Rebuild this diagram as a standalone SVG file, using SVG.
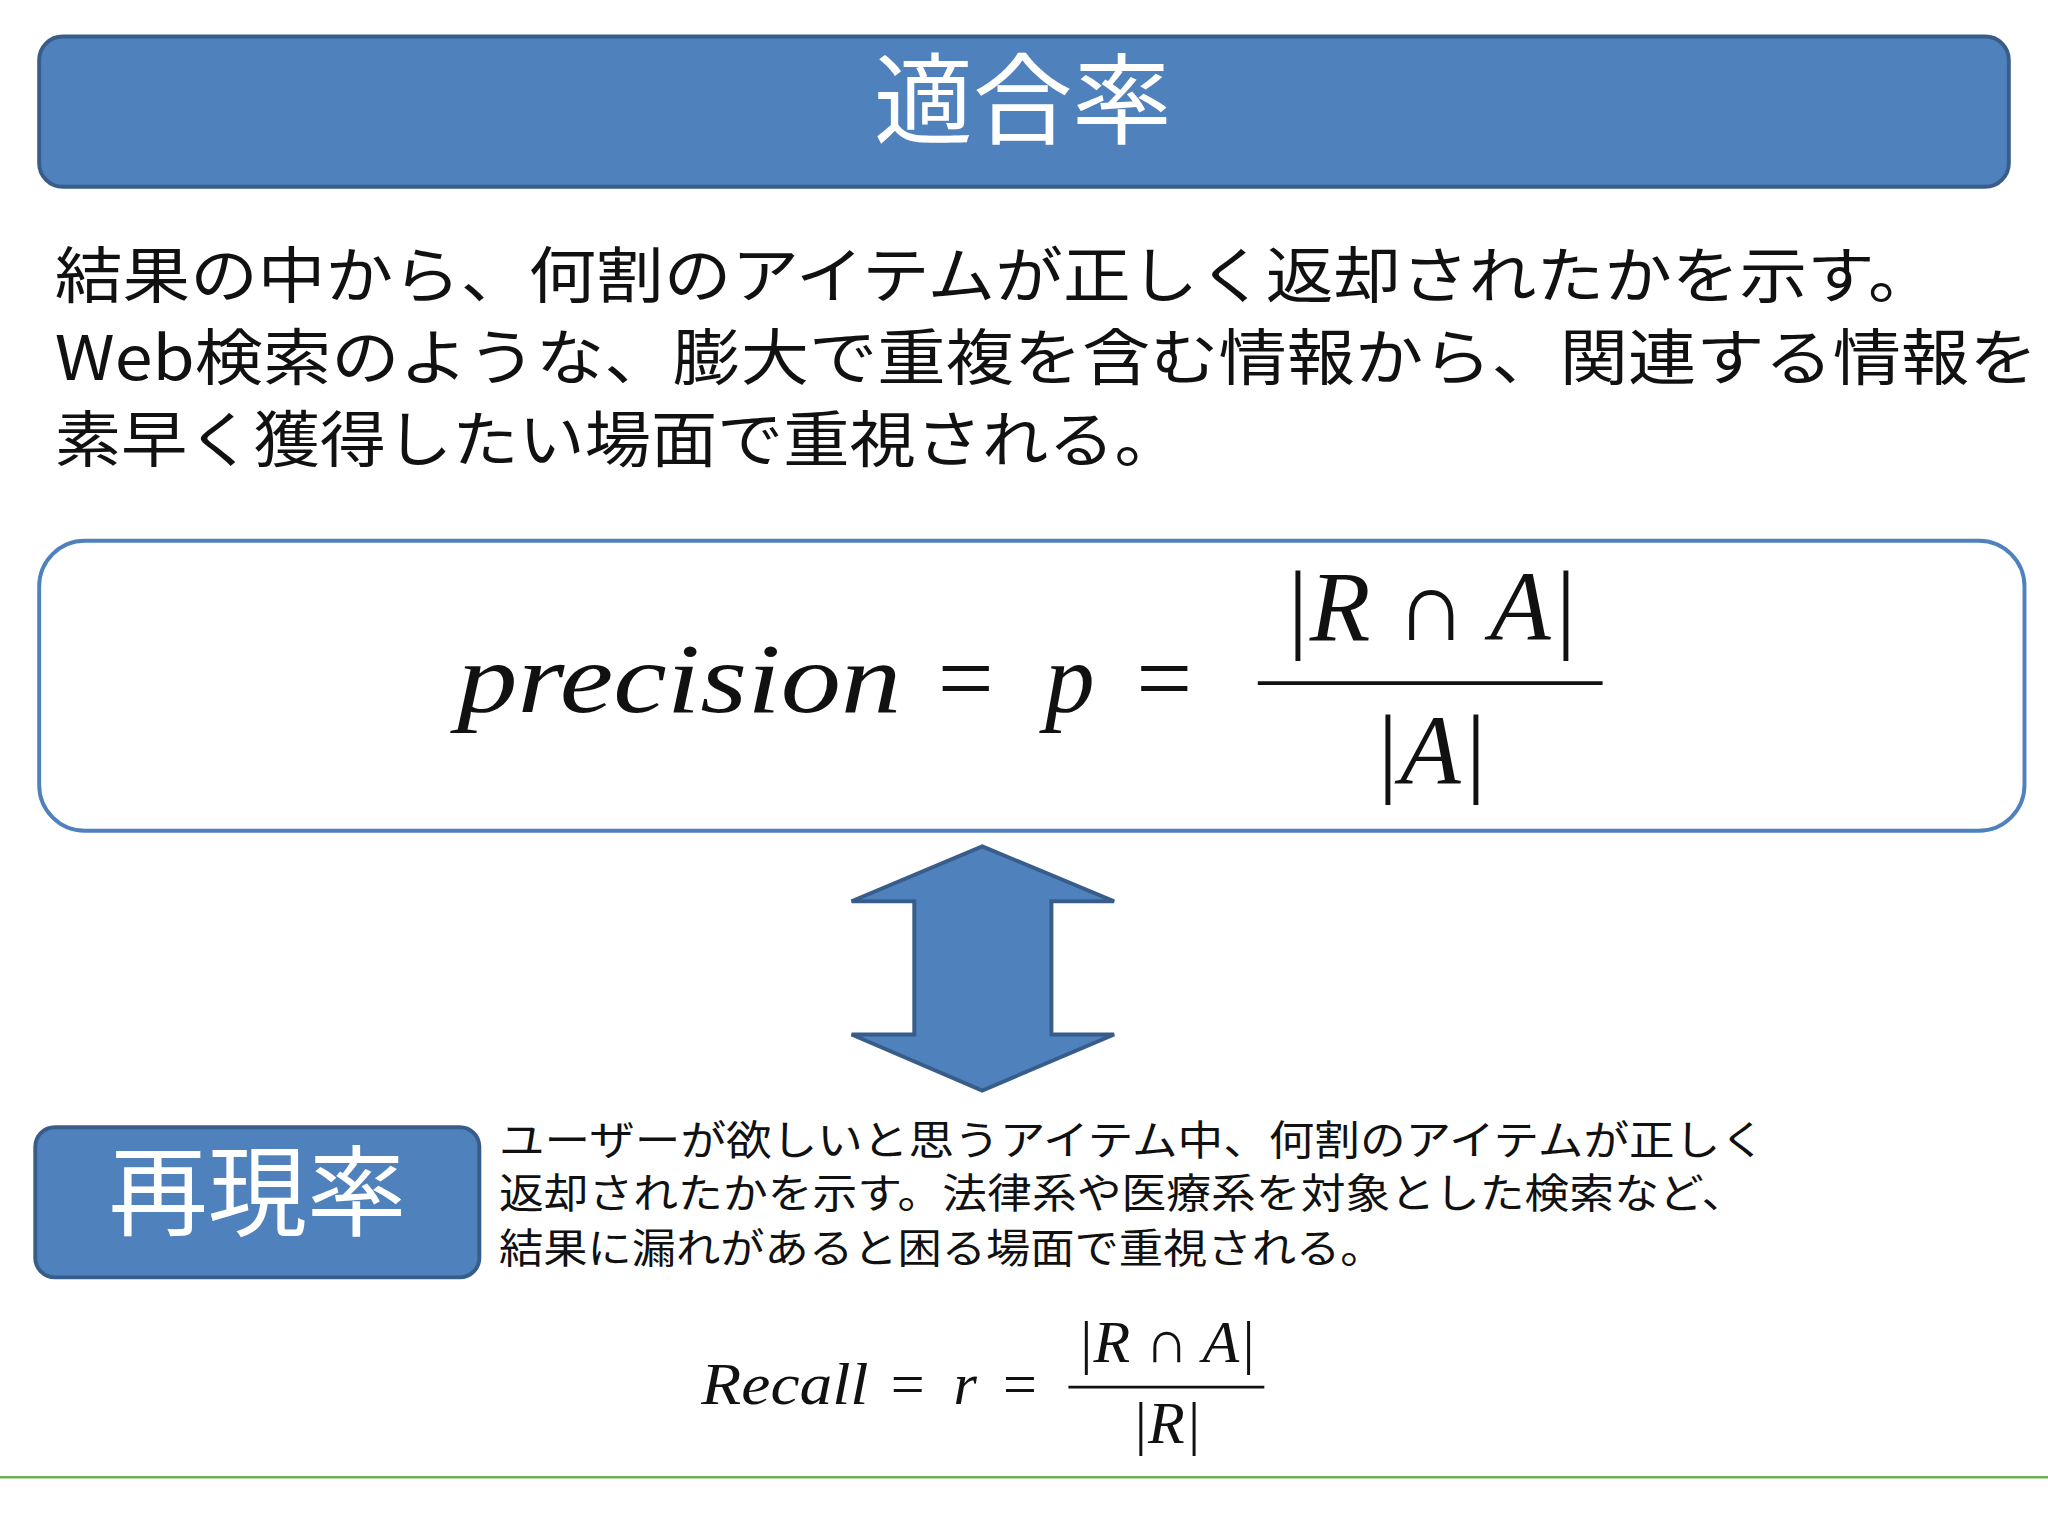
<svg xmlns="http://www.w3.org/2000/svg" width="2048" height="1536" viewBox="0 0 2048 1536">
<style>
.bar{fill:#4f81bd;stroke:#385d8a;stroke-width:3}
.jp{font-family:"Noto Sans CJK JP","Noto Sans",sans-serif;fill:#111}
.wt{font-family:"Noto Sans CJK JP",sans-serif;fill:#fff;text-anchor:middle}
.m{font-family:"Liberation Serif",serif;font-style:italic;fill:#111}
.mu{font-family:"Liberation Serif",serif;fill:#111}
</style>
<rect width="2048" height="1536" fill="#fff"/>
<g transform="scale(1.30612)">
<g id="title"><rect class="bar" x="30" y="28" width="1508" height="115" rx="18"/><text class="wt" x="783" y="104" font-size="76">適合率</text></g>
<g id="desc" font-size="47">
<text class="jp" x="42" y="228" textLength="1440" lengthAdjust="spacingAndGlyphs">結果の中から、何割のアイテムが正しく返却されたかを示す。</text>
<text class="jp" x="42" y="291" textLength="1518" lengthAdjust="spacingAndGlyphs">Web検索のような、膨大で重複を含む情報から、関連する情報を</text>
<text class="jp" x="42" y="354" textLength="862" lengthAdjust="spacingAndGlyphs">素早く獲得したい場面で重視される。</text>
</g>
<g id="precision">
<rect x="30" y="414" width="1520" height="222" rx="35" fill="#fff" stroke="#4f81bd" stroke-width="3"/>
<text class="m" x="350" y="545" font-size="76" textLength="340" lengthAdjust="spacingAndGlyphs">precision</text>
<text class="mu" x="718" y="545" font-size="76">=</text>
<text class="m" x="800" y="545" font-size="76">p</text>
<text class="mu" x="870" y="545" font-size="76">=</text>
<text class="m" x="1095" y="490" font-size="76" text-anchor="middle">|R ∩ A|</text>
<line x1="963" y1="523" x2="1227" y2="523" stroke="#111" stroke-width="3"/>
<text class="m" x="1095" y="600" font-size="76" text-anchor="middle">|A|</text>
</g>
<g id="connectors">
<polygon class="bar" points="752,648 853,690 805,690 805,792 853,792 752,835 652,792 700,792 700,690 652,690"/>
</g>
<g id="recallbox"><rect class="bar" x="27" y="863" width="340" height="115" rx="15"/><text class="wt" x="197" y="940" font-size="76">再現率</text></g>
<g id="recalldesc" font-size="31">
<text class="jp" x="382" y="884" textLength="970" lengthAdjust="spacingAndGlyphs">ユーザーが欲しいと思うアイテム中、何割のアイテムが正しく</text>
<text class="jp" x="382" y="925" textLength="955" lengthAdjust="spacingAndGlyphs">返却されたかを示す。法律系や医療系を対象とした検索など、</text>
<text class="jp" x="382" y="967" textLength="678" lengthAdjust="spacingAndGlyphs">結果に漏れがあると困る場面で重視される。</text>
</g>
<g id="recall">
<text class="m" x="537" y="1075" font-size="46" textLength="128" lengthAdjust="spacingAndGlyphs">Recall</text>
<text class="mu" x="682" y="1075" font-size="46">=</text>
<text class="m" x="730" y="1075" font-size="46">r</text>
<text class="mu" x="768" y="1075" font-size="46">=</text>
<text class="m" x="893" y="1043" font-size="46" text-anchor="middle">|R ∩ A|</text>
<line x1="818" y1="1062" x2="968" y2="1062" stroke="#111" stroke-width="2"/>
<text class="m" x="893" y="1105" font-size="46" text-anchor="middle">|R|</text>
</g>
<line x1="0" y1="1131" x2="1568" y2="1131" stroke="#70b050" stroke-width="2"/>
</g>
</svg>
